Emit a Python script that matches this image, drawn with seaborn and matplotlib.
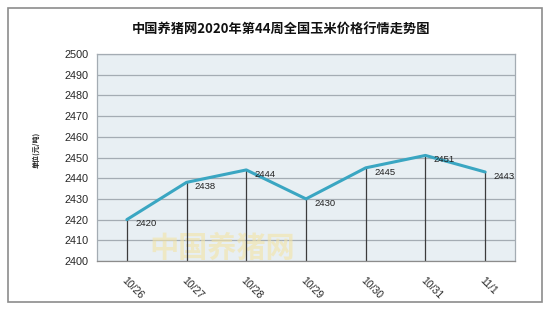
import matplotlib
matplotlib.use("Agg")
import matplotlib.pyplot as plt
import seaborn as sns
import pandas as pd
from matplotlib.patches import Rectangle

dates = ["10/26", "10/27", "10/28", "10/29", "10/30", "10/31", "11/1"]
prices = [2420, 2438, 2444, 2430, 2445, 2451, 2443]
y_ticks = [2400, 2410, 2420, 2430, 2440, 2450, 2460, 2470, 2480, 2490, 2500]
title = "中国养猪网2020年第44周全国玉米价格行情走势图"
ylabel = "单位(元/吨)"

sns.set_style("white")
plt.rcParams['font.family'] = ['Noto Sans CJK SC', 'DejaVu Sans']

df = pd.DataFrame({"pos": range(len(dates)), "price": prices})

fig = plt.figure(figsize=(5.5, 3.12), dpi=100)
fig.patch.set_facecolor("white")
# outer border
fig.add_artist(Rectangle((8 / 550, 1 - 302 / 312), 534 / 550, 294 / 312,
                         transform=fig.transFigure, fill=False,
                         edgecolor="#8C8C8C", linewidth=1.2))

ax = fig.add_axes([97 / 550, 1 - 261 / 312, 418 / 550, 207 / 312])
ax.set_facecolor("#E8EFF3")

ax.set_ylim(2400, 2500)
ax.set_xlim(-0.5, len(dates) - 0.5)
ax.set_yticks(y_ticks)
ax.yaxis.grid(True, color="#A4ACB3", linewidth=0.9)
ax.set_axisbelow(True)

# watermark (behind the data)
ax.text(1.6, 2406.5, "中国养猪网", fontsize=21, fontweight="bold",
        color="#F3E4A6", alpha=0.6, ha="center", va="center", zorder=1)

# drop lines
ax.vlines(df["pos"], 2400, df["price"], color="#3C3C3C", linewidth=0.9, zorder=2)

sns.lineplot(data=df, x="pos", y="price", ax=ax, color="#3AA6C2",
             linewidth=2.2, zorder=3)

for x, v in zip(df["pos"], df["price"]):
    ax.annotate(str(v), (x, v), xytext=(6, -3), textcoords="offset points",
                fontsize=6.8, family="Liberation Sans", color="#222222",
                va="center", ha="left", zorder=4)

ax.set_xticks(range(len(dates)))
ax.set_xticklabels(dates, rotation=-45, ha="left", rotation_mode="anchor",
                   fontsize=7.5, family="Liberation Sans")
ax.set_xticks([i + 0.5 for i in range(len(dates) - 1)], minor=True)
ax.tick_params(axis="x", which="major", length=0, pad=10)
ax.tick_params(axis="x", which="minor", direction="in", length=3,
               color="#8C8C8C", width=0.8)
ax.tick_params(axis="y", length=0, labelsize=7.8, pad=6)
for lab in ax.get_yticklabels():
    lab.set_family("Liberation Sans")

for side in ["top", "right", "left", "bottom"]:
    ax.spines[side].set_visible(True)
    ax.spines[side].set_color("#A4ACB3")
    ax.spines[side].set_linewidth(0.9)
ax.spines["bottom"].set_color("#8C8C8C")

ax.set_xlabel("")
ax.set_ylabel("")

fig.text(36 / 550, 1 - 150 / 312, ylabel, rotation=90, fontsize=5,
         fontweight="bold", ha="center", va="center", color="#222222")
fig.text(281 / 550, 1 - 29 / 312, title, fontsize=9.5, fontweight="bold",
         ha="center", va="center", color="#111111")

fig.savefig("out.png", dpi=100, facecolor="white")
